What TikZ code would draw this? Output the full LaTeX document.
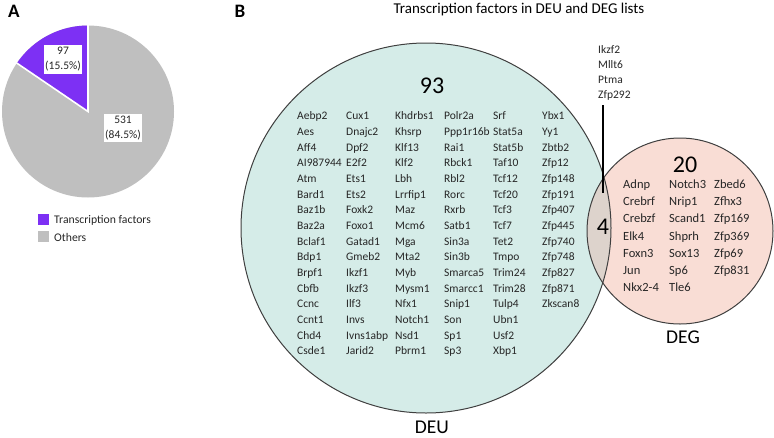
\documentclass[tikz,border=0pt]{standalone}
\usepackage{fontspec}
\usetikzlibrary{calc}
\setmainfont{Carlito}
\definecolor{tfpurple}{HTML}{7D30F4}
\definecolor{othgray}{HTML}{BFBFBF}
\definecolor{deufill}{HTML}{D5ECE8}
\definecolor{degfill}{HTML}{F9DDD5}
\definecolor{lensfill}{HTML}{DDD3CC}
\definecolor{edgecol}{HTML}{3F3F3F}
\definecolor{txt}{HTML}{262626}
\begin{document}
\begin{tikzpicture}[x=1pt,y=-1pt,
  gene/.style={anchor=base west,inner sep=0pt,text=txt,font=\fontsize{11.5}{13}\selectfont},
  dgene/.style={anchor=base west,inner sep=0pt,text=txt,font=\fontsize{12.5}{14}\selectfont},
  shared/.style={anchor=base west,inner sep=0pt,text=txt,font=\fontsize{11.5}{13}\selectfont},
  bignum/.style={inner sep=0pt,text=black,font=\fontsize{24}{28}\selectfont},
  setlabel/.style={inner sep=0pt,text=black,font=\fontsize{19.5}{22}\selectfont},
  panel/.style={inner sep=0pt,text=black,font=\fontsize{19}{22}\selectfont\bfseries},
  piebox/.style={fill=white,inner xsep=1.5pt,inner ysep=2pt,align=center,text=txt,font=\fontsize{11.5}{15}\selectfont},
  legbox/.style={minimum width=11pt,minimum height=11pt,inner sep=0pt},
  legtext/.style={anchor=west,inner sep=0pt,text=txt,font=\fontsize{11.7}{14}\selectfont}
]
\path[use as bounding box] (0,0) rectangle (774,437);

% ---------- Panel A ----------
\node[panel] (pA) at (14,11.5) {A};
\coordinate (pc) at (88,111.5);
\fill[othgray] (pc) circle[radius=86];
\fill[tfpurple] (pc) -- ($(pc)+(-90:86)$) arc[start angle=-90,end angle=-145.8,radius=86] -- cycle;
\draw[white,line width=1.6] ($(pc)+(-90:87)$) -- (pc) -- ($(pc)+(-145.8:87)$);
\node[piebox] (l97) at (63,59.5) {97\\(15.5\%)};
\node[piebox] (l531) at (123,128) {531\\(84.5\%)};
\node[legbox,fill=tfpurple] (lg1) at (43,219.5) {};
\node[legtext] (lt1) at (54,220) {Transcription factors};
\node[legbox,fill=othgray] (lg2) at (43,236.5) {};
\node[legtext] (lt2) at (54,237) {Others};

% ---------- Panel B ----------
\node[panel] (pB) at (240,11) {B};
\node[inner sep=0pt,text=black,font=\fontsize{15}{18}\selectfont] (title) at (519,9) {Transcription factors in DEU and DEG lists};

\coordinate (cu) at (426,228);
\coordinate (cg) at (680,231);
\fill[deufill] (cu) circle[radius=185];
\fill[degfill] (cg) circle[radius=93];
\begin{scope}
  \clip (cu) circle[radius=185];
  \fill[lensfill] (cg) circle[radius=93];
\end{scope}
\draw[edgecol,line width=1pt] (cu) circle[radius=185];
\draw[edgecol,line width=1pt] (cg) circle[radius=93];

\node[bignum] (n93) at (432,86) {93};
\node[bignum] (n20) at (685,164.5) {20};
\node[bignum] (n4) at (603,227) {4};
\node[setlabel] (deu) at (432,427) {DEU};
\node[setlabel] (deg) at (683,337) {DEG};

% shared genes
\foreach [count=\i from 0] \g in {Ikzf2,Mllt6,Ptma,Zfp292}
  \node[shared] (s-\i) at (598,{53.2+15*\i}) {\g};
\coordinate (ltop) at (603,105);
\coordinate (lbot) at (603,193);
\draw[black,line width=1.3pt] (ltop) -- (lbot);

% DEU genes
\foreach [count=\i from 0] \g in {Aebp2,Aes,Aff4,AI987944,Atm,Bard1,Baz1b,Baz2a,Bclaf1,Bdp1,Brpf1,Cbfb,Ccnc,Ccnt1,Chd4,Csde1}
  \node[gene] (ua-\i) at (297,{119.8+15.67*\i}) {\g};
\foreach [count=\i from 0] \g in {Cux1,Dnajc2,Dpf2,E2f2,Ets1,Ets2,Foxk2,Foxo1,Gatad1,Gmeb2,Ikzf1,Ikzf3,Ilf3,Invs,Ivns1abp,Jarid2}
  \node[gene] (ub-\i) at (346,{119.8+15.67*\i}) {\g};
\foreach [count=\i from 0] \g in {Khdrbs1,Khsrp,Klf13,Klf2,Lbh,Lrrfip1,Maz,Mcm6,Mga,Mta2,Myb,Mysm1,Nfx1,Notch1,Nsd1,Pbrm1}
  \node[gene] (uc-\i) at (395,{119.8+15.67*\i}) {\g};
\foreach [count=\i from 0] \g in {Polr2a,Ppp1r16b,Rai1,Rbck1,Rbl2,Rorc,Rxrb,Satb1,Sin3a,Sin3b,Smarca5,Smarcc1,Snip1,Son,Sp1,Sp3}
  \node[gene] (ud-\i) at (444,{119.8+15.67*\i}) {\g};
\foreach [count=\i from 0] \g in {Srf,Stat5a,Stat5b,Taf10,Tcf12,Tcf20,Tcf3,Tcf7,Tet2,Tmpo,Trim24,Trim28,Tulp4,Ubn1,Usf2,Xbp1}
  \node[gene] (ue-\i) at (493,{119.8+15.67*\i}) {\g};
\foreach [count=\i from 0] \g in {Ybx1,Yy1,Zbtb2,Zfp12,Zfp148,Zfp191,Zfp407,Zfp445,Zfp740,Zfp748,Zfp827,Zfp871,Zkscan8}
  \node[gene] (uf-\i) at (542,{119.8+15.67*\i}) {\g};

% DEG genes
\foreach [count=\i from 0] \g in {Adnp,Crebrf,Crebzf,Elk4,Foxn3,Jun,Nkx2-4}
  \node[dgene] (ga-\i) at (623,{188.5+17.2*\i}) {\g};
\foreach [count=\i from 0] \g in {Notch3,Nrip1,Scand1,Shprh,Sox13,Sp6,Tle6}
  \node[dgene] (gb-\i) at (669,{188.5+17.2*\i}) {\g};
\foreach [count=\i from 0] \g in {Zbed6,Zfhx3,Zfp169,Zfp369,Zfp69,Zfp831}
  \node[dgene] (gc-\i) at (714,{188.5+17.2*\i}) {\g};
\end{tikzpicture}
\end{document}
